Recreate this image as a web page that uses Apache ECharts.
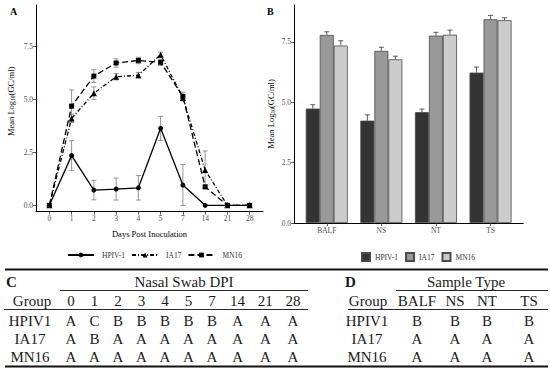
<!DOCTYPE html>
<html>
<head>
<meta charset="utf-8">
<script src="https://cdn.jsdelivr.net/npm/echarts@6/dist/echarts.min.js"></script>
<style>
  html, body { margin: 0; padding: 0; background: #fff; }
  #chart { width: 550px; height: 373px; }
</style>
</head>
<body>
<div id="chart"></div>
<script>
// ---------- Panel A data (nasal swab, days post inoculation) ----------
const dayLabels = ['0', '1', '2', '3', '4', '5', '7', '14', '21', '28'];
const hpivMean = [0, 2.35, 0.72, 0.77, 0.83, 3.64, 0.96, 0, 0, 0];
const hpivErr  = [0, 0.71, 0.46, 0.52, 0.58, 0.57, 0.97, 0, 0, 0];
const ia17Mean = [0, 4.11, 5.30, 6.08, 6.15, 7.12, 5.09, 1.67, 0, 0];
const ia17Err  = [0, 0.20, 0.30, 0.15, 0.13, 0.12, 0.15, 0.90, 0, 0];
const mn16Mean = [0, 4.69, 6.11, 6.73, 6.85, 6.76, 5.15, 0.88, 0, 0];
const mn16Err  = [0, 0.76, 0.30, 0.20, 0.15, 0.15, 0.20, 0.05, 0, 0];
const yTicks = [0, 2.5, 5, 7.5];

// ---------- Panel B data (sample type) ----------
const sampleTypes = ['BALF', 'NS', 'NT', 'TS'];
const hpivBar = [4.74, 4.24, 4.59, 6.23];
const hpivBarErr = [0.16, 0.24, 0.13, 0.23];
const ia17Bar = [7.79, 7.13, 7.76, 8.44];
const ia17BarErr = [0.13, 0.15, 0.14, 0.16];
const mn16Bar = [7.35, 6.78, 7.80, 8.40];
const mn16BarErr = [0.20, 0.13, 0.19, 0.10];

// ---------- Tables C and D ----------
const groups = ['HPIV1', 'IA17', 'MN16'];
const cColumns = ['0', '1', '2', '3', '4', '5', '7', '14', '21', '28'];
const cLetters = [
  ['A', 'C', 'B', 'B', 'B', 'B', 'B', 'A', 'A', 'A'],
  ['A', 'B', 'A', 'A', 'A', 'A', 'A', 'A', 'A', 'A'],
  ['A', 'A', 'A', 'A', 'A', 'A', 'A', 'A', 'A', 'A']
];
const dColumns = ['BALF', 'NS', 'NT', 'TS'];
const dLetters = [
  ['B', 'B', 'B', 'B'],
  ['A', 'A', 'A', 'A'],
  ['A', 'A', 'A', 'A']
];

// ---------- layout / style ----------
const SERIF = "'Liberation Serif', 'Times New Roman', serif";
const tickLabelColor = '#4d4d4d';
const cColX = [71, 94.5, 118, 141.5, 165, 188.5, 212, 237.6, 265.3, 293];
const dColX = [417, 455, 487, 529];
const tableRowY = [321, 339, 357];

const chart = echarts.init(document.getElementById('chart'), null, { renderer: 'svg', width: 550, height: 373 });

const yName = '{a|Mean Log}{b|10}{a|(GC/ml)}';
function yNameStyle(shift) {
  return {
    padding: [0, 0, 0, shift],
    rich: {
      a: { fontSize: 8.5, fontFamily: SERIF, color: '#000' },
      b: { fontSize: 5.5, fontFamily: SERIF, color: '#000', padding: [4, 0, 0, 0] }
    }
  };
}

function axisCommon(extra) {
  return Object.assign({
    axisLine: { show: true, onZero: false, lineStyle: { color: '#000', width: 1 } },
    axisTick: { show: true, length: 3, lineStyle: { color: '#333', width: 0.8 } },
    splitLine: { show: false }
  }, extra);
}

function errorSeriesLine(means, errs, color, xi, yi, both, offsetPx) {
  return {
    type: 'custom',
    xAxisIndex: xi, yAxisIndex: yi,
    silent: true,
    z: 1,
    data: means.map((m, i) => [i, m, errs[i]]),
    renderItem: function (params, api) {
      const i = api.value(0), m = api.value(1), e = api.value(2);
      if (!e) return;
      const top = api.coord([i, m + e]);
      const bot = api.coord([i, both ? m - e : m]);
      const x = top[0] + (offsetPx || 0);
      const w = 2.5;
      const style = { stroke: color, lineWidth: 0.8, fill: null };
      const children = [
        { type: 'line', shape: { x1: x, y1: top[1], x2: x, y2: bot[1] }, style: style },
        { type: 'line', shape: { x1: x - w, y1: top[1], x2: x + w, y2: top[1] }, style: style }
      ];
      if (both) children.push({ type: 'line', shape: { x1: x - w, y1: bot[1], x2: x + w, y2: bot[1] }, style: style });
      return { type: 'group', children: children };
    }
  };
}

function lineSeries(name, means, symbol, size, dash) {
  return {
    type: 'line', name: name,
    xAxisIndex: 0, yAxisIndex: 0,
    data: means.map((m, i) => [i, m]),
    symbol: symbol, symbolSize: size,
    showSymbol: true,
    z: 3,
    lineStyle: { color: '#000', width: 1.3, type: dash },
    itemStyle: { color: '#000' },
    emphasis: { disabled: true }
  };
}

function barSeries(name, vals, color) {
  return {
    type: 'bar', name: name,
    xAxisIndex: 1, yAxisIndex: 1,
    data: vals.map((v, i) => [i, v]),
    barWidth: 14, barGap: '0%',
    itemStyle: { color: color, borderColor: '#4a4a4a', borderWidth: 0.8 },
    emphasis: { disabled: true },
    z: 2
  };
}

// table graphics
const tableEls = [];
function txt(t, x, y, opts) {
  tableEls.push({
    type: 'text', silent: true,
    style: Object.assign({ text: t, x: x, y: y, fill: '#1a1a1a', font: '15px ' + SERIF, align: 'center', verticalAlign: 'middle' }, opts || {})
  });
}
function hline(x1, x2, y, w) {
  tableEls.push({ type: 'line', silent: true, shape: { x1: x1, y1: y, x2: x2, y2: y }, style: { stroke: '#111', lineWidth: w } });
}
hline(5, 548, 269.5, 1.8);
hline(60, 308, 290.5, 0.9);
hline(396, 548, 290.5, 0.9);
hline(4, 308, 309.5, 0.9);
hline(348, 548, 309.5, 0.9);
hline(5, 548, 366.5, 1.8);
txt('C', 6, 282, { align: 'left', font: 'bold 15px ' + SERIF });
txt('Nasal Swab DPI', 184, 282);
txt('D', 345, 282, { align: 'left', font: 'bold 15px ' + SERIF });
txt('Sample Type', 466, 282);
txt('Group', 32, 301);
txt('Group', 368, 301);
cColumns.forEach((c, j) => txt(c, cColX[j], 301));
dColumns.forEach((c, j) => txt(c, dColX[j], 301));
groups.forEach((g, r) => {
  txt(g, 30, tableRowY[r]);
  txt(g, 367, tableRowY[r]);
  cLetters[r].forEach((l, j) => txt(l, cColX[j], tableRowY[r]));
  dLetters[r].forEach((l, j) => txt(l, dColX[j], tableRowY[r]));
});

const option = {
  animation: false,
  backgroundColor: '#fff',
  textStyle: { fontFamily: SERIF },
  title: [
    { text: 'A', left: 10, top: 6, padding: 0, textStyle: { fontFamily: SERIF, fontWeight: 'bold', fontSize: 10, color: '#000' } },
    { text: 'B', left: 267, top: 6, padding: 0, textStyle: { fontFamily: SERIF, fontWeight: 'bold', fontSize: 10, color: '#000' } }
  ],
  grid: [
    { left: 36, top: 5, width: 227, height: 206.7 },
    { left: 294, top: 5, width: 229.3, height: 218 }
  ],
  xAxis: [
    axisCommon({
      type: 'value', gridIndex: 0, min: -0.6, max: 9.6,
      axisTick: { show: true, length: 3, customValues: dayLabels.map((d, i) => i), lineStyle: { color: '#333', width: 0.8 } },
      axisLabel: { customValues: dayLabels.map((d, i) => i), formatter: v => dayLabels[Math.round(v)], color: tickLabelColor, fontSize: 7.5, fontFamily: SERIF, margin: 3 },
      name: 'Days Post Inoculation', nameLocation: 'middle', nameGap: 18,
      nameTextStyle: { fontSize: 8.5, fontFamily: SERIF, color: '#000' }
    }),
    axisCommon({
      type: 'value', gridIndex: 1, min: -0.6, max: 3.6,
      axisTick: { show: true, length: 3, customValues: sampleTypes.map((d, i) => i), lineStyle: { color: '#333', width: 0.8 } },
      axisLabel: { customValues: sampleTypes.map((d, i) => i), formatter: v => sampleTypes[Math.round(v)], color: tickLabelColor, fontSize: 7.5, fontFamily: SERIF, margin: 3 }
    })
  ],
  yAxis: [
    axisCommon({
      type: 'value', gridIndex: 0, min: -0.3, max: 9.47,
      axisTick: { show: true, length: 3, customValues: yTicks, lineStyle: { color: '#333', width: 0.8 } },
      axisLabel: { customValues: yTicks, formatter: v => v.toFixed(1), color: tickLabelColor, fontSize: 7.5, fontFamily: SERIF, margin: 3 },
      name: yName, nameLocation: 'middle', nameGap: 20, nameRotate: 90, nameTextStyle: yNameStyle(14)
    }),
    axisCommon({
      type: 'value', gridIndex: 1, min: 0, max: 9.03,
      axisTick: { show: true, length: 3, customValues: yTicks, lineStyle: { color: '#333', width: 0.8 } },
      axisLabel: { customValues: yTicks, formatter: v => v.toFixed(1), color: tickLabelColor, fontSize: 7.5, fontFamily: SERIF, margin: 3 },
      name: yName, nameLocation: 'middle', nameGap: 18, nameRotate: 90, nameTextStyle: yNameStyle(0)
    })
  ],
  legend: [
    {
      data: ['HPIV-1', 'IA17', 'MN16'],
      left: 62, top: 246, itemWidth: 26, itemHeight: 6, itemGap: 6,
      selectedMode: false,
      textStyle: { fontFamily: SERIF, fontSize: 7.5, color: '#333', padding: [0, 0, 0, 3] }
    },
    {
      data: ['HPIV-1 (B)', 'IA17 (B)', 'MN16 (B)'],
      formatter: n => n.replace(' (B)', ''),
      left: 356, top: 247, itemWidth: 8, itemHeight: 8, itemGap: 7, icon: 'rect',
      selectedMode: false,
      textStyle: { fontFamily: SERIF, fontSize: 7.5, color: '#333' }
    }
  ],
  series: [
    errorSeriesLine(hpivMean, hpivErr, '#7a7a7a', 0, 0, true, 0),
    errorSeriesLine(ia17Mean, ia17Err, '#7a7a7a', 0, 0, true, 0),
    errorSeriesLine(mn16Mean, mn16Err, '#7a7a7a', 0, 0, true, 0),
    lineSeries('HPIV-1', hpivMean, 'circle', 5, 'solid'),
    lineSeries('IA17', ia17Mean, 'triangle', 6, [4, 2, 1, 2]),
    lineSeries('MN16', mn16Mean, 'rect', 5, [6, 3]),
    barSeries('HPIV-1 (B)', hpivBar, '#333333'),
    barSeries('IA17 (B)', ia17Bar, '#999999'),
    barSeries('MN16 (B)', mn16Bar, '#cccccc'),
    errorSeriesLine(hpivBar, hpivBarErr, '#333', 1, 1, false, -14),
    errorSeriesLine(ia17Bar, ia17BarErr, '#333', 1, 1, false, 0),
    errorSeriesLine(mn16Bar, mn16BarErr, '#333', 1, 1, false, 14)
  ],
  graphic: tableEls
};
chart.setOption(option);
</script>
</body>
</html>
